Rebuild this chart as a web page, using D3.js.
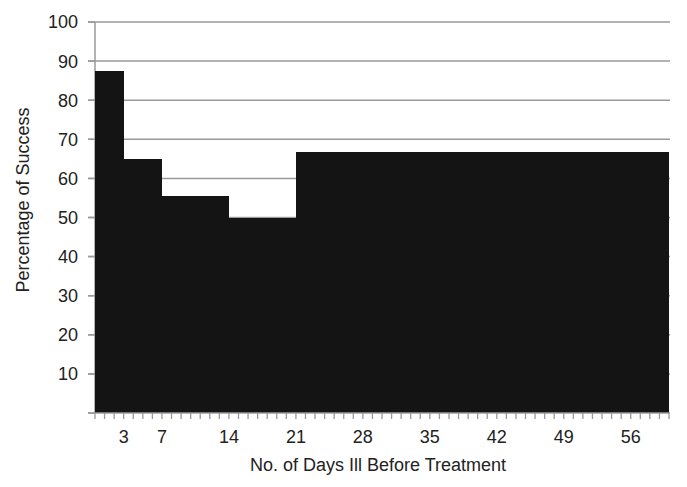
<!DOCTYPE html>
<html><head><meta charset="utf-8">
<script src="https://cdn.jsdelivr.net/npm/d3@7"></script>
<style>body{margin:0;background:#fff;} text{font-family:"Liberation Sans",Arial,sans-serif;fill:#222;}</style>
</head><body>
<svg id="c" width="687" height="487"></svg>
<script>
const binStarts = [0, 3, 7, 14, 21];
const binEnds = [3, 7, 14, 21, 60];
const successPct = [87.5, 65.0, 55.5, 50.0, 66.7];
const xTickLabels = [3, 7, 14, 21, 28, 35, 42, 49, 56];
const yTickLabels = [10, 20, 30, 40, 50, 60, 70, 80, 90, 100];

const svg = d3.select("#c");
const x = d3.scaleLinear().domain([0, 60]).range([95, 669]);
const y = d3.scaleLinear().domain([0, 100]).range([413, 22]);
const grid = "#9a9a9a";

// gridlines
svg.append("g").selectAll("line").data(yTickLabels).join("line")
  .attr("x1", 88).attr("x2", 670)
  .attr("y1", d => y(d)).attr("y2", d => y(d))
  .attr("stroke", grid).attr("stroke-width", 1.5);

// y axis line & ticks
svg.append("line").attr("x1", 95).attr("x2", 95).attr("y1", y(100)).attr("y2", y(0))
  .attr("stroke", grid).attr("stroke-width", 1.5);
svg.append("g").selectAll("line").data([0].concat(yTickLabels)).join("line")
  .attr("x1", 88).attr("x2", 95)
  .attr("y1", d => y(d)).attr("y2", d => y(d))
  .attr("stroke", grid).attr("stroke-width", 1.5);

// bars
const bars = binStarts.map((s, i) => ({s, e: binEnds[i], v: successPct[i]}));
svg.append("g").attr("shape-rendering", "crispEdges").selectAll("rect").data(bars).join("rect")
  .attr("x", d => Math.round(x(d.s))).attr("width", d => Math.round(x(d.e)) - Math.round(x(d.s)))
  .attr("y", d => y(d.v)).attr("height", d => y(0) - y(d.v))
  .attr("fill", "#141414");

// x axis line & minor ticks
svg.append("line").attr("x1", 88).attr("x2", 670).attr("y1", y(0)).attr("y2", y(0))
  .attr("stroke", grid).attr("stroke-width", 1.5);
svg.append("g").selectAll("line").data(d3.range(0, 61)).join("line")
  .attr("x1", d => x(d)).attr("x2", d => x(d))
  .attr("y1", y(0)).attr("y2", y(0) + 6)
  .attr("stroke", grid).attr("stroke-width", 1.3);

// y tick labels
svg.append("g").selectAll("text").data(yTickLabels).join("text")
  .attr("x", 78).attr("y", d => y(d)).attr("dy", "0.36em")
  .attr("text-anchor", "end").attr("font-size", 18).text(d => d);

// x tick labels
svg.append("g").selectAll("text").data(xTickLabels).join("text")
  .attr("x", d => x(d)).attr("y", 443)
  .attr("text-anchor", "middle").attr("font-size", 18).text(d => d);

// titles
svg.append("text").attr("x", 378).attr("y", 471).attr("text-anchor", "middle")
  .attr("font-size", 18).text("No. of Days Ill Before Treatment");
svg.append("text").attr("transform", "translate(29,200) rotate(-90)")
  .attr("text-anchor", "middle").attr("font-size", 18).text("Percentage of Success");
</script>
</body></html>
